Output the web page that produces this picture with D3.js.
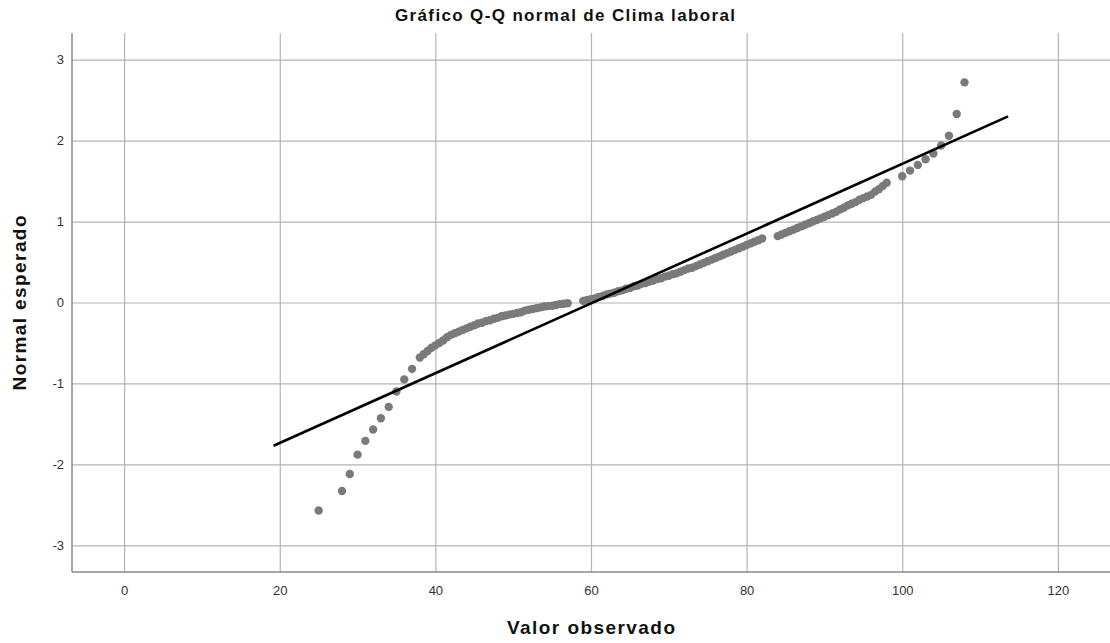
<!DOCTYPE html>
<html>
<head>
<meta charset="utf-8">
<script src="https://cdn.jsdelivr.net/npm/d3@7/dist/d3.min.js"></script>
<style>
  body { margin: 0; background: #fff; }
  svg { display: block; font-family: "Liberation Sans", Arial, sans-serif; }
  .grid line { stroke: #b4b4b4; stroke-width: 1.2; }
  .grid path { display: none; }
  .grid text { fill: #333; font-size: 13px; }
</style>
</head>
<body>
<svg width="1110" height="643"></svg>
<script>
// valores observados (x) y normal esperado (y)
var observed = [25, 28, 29, 30, 31, 32, 33, 34, 35, 36, 37,
    38, 38.5, 39, 39.5, 40, 40.5, 41, 41.5, 42, 42.5, 43, 43.5, 44, 44.5, 45, 45.5, 46, 46.5, 47, 47.5,
    48, 48.5, 49, 49.5, 50, 50.5, 51, 51.5, 52, 52.5, 53, 53.5, 54, 54.5, 55, 55.5, 56, 56.5, 57,
    59, 59.5, 60, 60.5, 61, 61.5, 62, 62.5, 63, 63.5, 64, 64.5, 65, 65.5, 66, 66.5, 67, 67.5, 68, 68.5,
    69, 69.5, 70, 70.5, 71, 71.5, 72, 72.5, 73, 73.5, 74, 74.5, 75, 75.5, 76, 76.5, 77, 77.5, 78, 78.5,
    79, 79.5, 80, 80.5, 81, 81.5, 82,
    84, 84.5, 85, 85.5, 86, 86.5, 87, 87.5, 88, 88.5, 89, 89.5, 90, 90.5, 91, 91.5, 92, 92.5, 93, 93.5,
    94, 94.5, 95, 95.5, 96, 96.5, 97, 97.5, 98,
    100, 101, 102, 103, 104, 105, 106, 107, 108];
var expected = [-2.57, -2.33, -2.12, -1.88, -1.71, -1.57, -1.43, -1.29, -1.10, -0.95, -0.82,
    -0.68, -0.64, -0.60, -0.56, -0.53, -0.50, -0.47, -0.43, -0.40, -0.38, -0.36, -0.34, -0.32, -0.30, -0.28, -0.26, -0.25, -0.23, -0.22, -0.20,
    -0.19, -0.17, -0.16, -0.15, -0.14, -0.13, -0.12, -0.10, -0.09, -0.08, -0.07, -0.06, -0.05, -0.045, -0.04, -0.03, -0.02, -0.015, -0.01,
    0.02, 0.03, 0.04, 0.05, 0.07, 0.08, 0.10, 0.11, 0.12, 0.14, 0.15, 0.17, 0.18, 0.20, 0.21, 0.23, 0.24, 0.26, 0.27, 0.29,
    0.30, 0.32, 0.33, 0.35, 0.36, 0.38, 0.40, 0.42, 0.43, 0.45, 0.47, 0.49, 0.51, 0.53, 0.55, 0.57, 0.59, 0.61, 0.63, 0.65,
    0.67, 0.69, 0.71, 0.73, 0.75, 0.77, 0.79,
    0.82, 0.84, 0.86, 0.88, 0.90, 0.92, 0.94, 0.96, 0.98, 1.00, 1.02, 1.04, 1.06, 1.08, 1.10, 1.12, 1.15, 1.17, 1.20, 1.22,
    1.24, 1.27, 1.29, 1.31, 1.33, 1.37, 1.40, 1.44, 1.48,
    1.56, 1.63, 1.70, 1.77, 1.84, 1.94, 2.06, 2.33, 2.72];

// recta de referencia
var lineX = [19.2, 113.6];
var lineY = [-1.77, 2.30];

var xTicks = [0, 20, 40, 60, 80, 100, 120];
var yTicks = [-3, -2, -1, 0, 1, 2, 3];

var svg = d3.select("svg");
var mLeft = 72, mRight = 1110, mTop = 33, mBottom = 572;

var x = d3.scaleLinear().domain([-6.7, 126.7]).range([mLeft, mRight]);
var y = d3.scaleLinear().domain([-3.33, 3.33]).range([mBottom, mTop]);

// rejilla vertical + etiquetas eje x
svg.append("g")
    .attr("class", "grid")
    .attr("transform", "translate(0," + mBottom + ")")
    .call(d3.axisBottom(x).tickValues(xTicks).tickSize(-(mBottom - mTop)).tickPadding(11))
    .selectAll("text").attr("dy", "0.9em");

// rejilla horizontal + etiquetas eje y
svg.append("g")
    .attr("class", "grid")
    .attr("transform", "translate(" + mLeft + ",0)")
    .call(d3.axisLeft(y).tickValues(yTicks).tickSize(-(mRight - mLeft)).tickPadding(8)
        .tickFormat(function(d) { return d; }));

// ejes
svg.append("line").attr("x1", mLeft).attr("x2", mLeft).attr("y1", mTop).attr("y2", mBottom)
    .attr("stroke", "#8a8a8a").attr("stroke-width", 1.5);
svg.append("line").attr("x1", mLeft).attr("x2", mRight).attr("y1", mBottom).attr("y2", mBottom)
    .attr("stroke", "#8a8a8a").attr("stroke-width", 1.5);

// puntos
var pts = observed.map(function(d, i) { return [d, expected[i]]; });
svg.append("g").selectAll("circle")
    .data(pts)
    .enter().append("circle")
    .attr("cx", function(d) { return x(d[0]); })
    .attr("cy", function(d) { return y(d[1]); })
    .attr("r", 4.2)
    .attr("fill", "#7a7a7a");

// linea
svg.append("line")
    .attr("x1", x(lineX[0])).attr("y1", y(lineY[0]))
    .attr("x2", x(lineX[1])).attr("y2", y(lineY[1]))
    .attr("stroke", "#000").attr("stroke-width", 2.6);

// titulos
svg.append("text").attr("x", 565).attr("y", 21).attr("text-anchor", "middle")
    .attr("font-weight", "bold").attr("font-size", 17).attr("fill", "#111")
    .attr("textLength", 340).attr("lengthAdjust", "spacing")
    .text("Gráfico Q-Q normal de Clima laboral");
svg.append("text").attr("x", 591).attr("y", 634).attr("text-anchor", "middle")
    .attr("font-weight", "bold").attr("font-size", 19).attr("fill", "#111")
    .attr("textLength", 168).attr("lengthAdjust", "spacing")
    .text("Valor observado");
svg.append("text").attr("transform", "translate(26,303) rotate(-90)").attr("text-anchor", "middle")
    .attr("font-weight", "bold").attr("font-size", 19).attr("fill", "#111")
    .attr("textLength", 175).attr("lengthAdjust", "spacing")
    .text("Normal esperado");
</script>
</body>
</html>
